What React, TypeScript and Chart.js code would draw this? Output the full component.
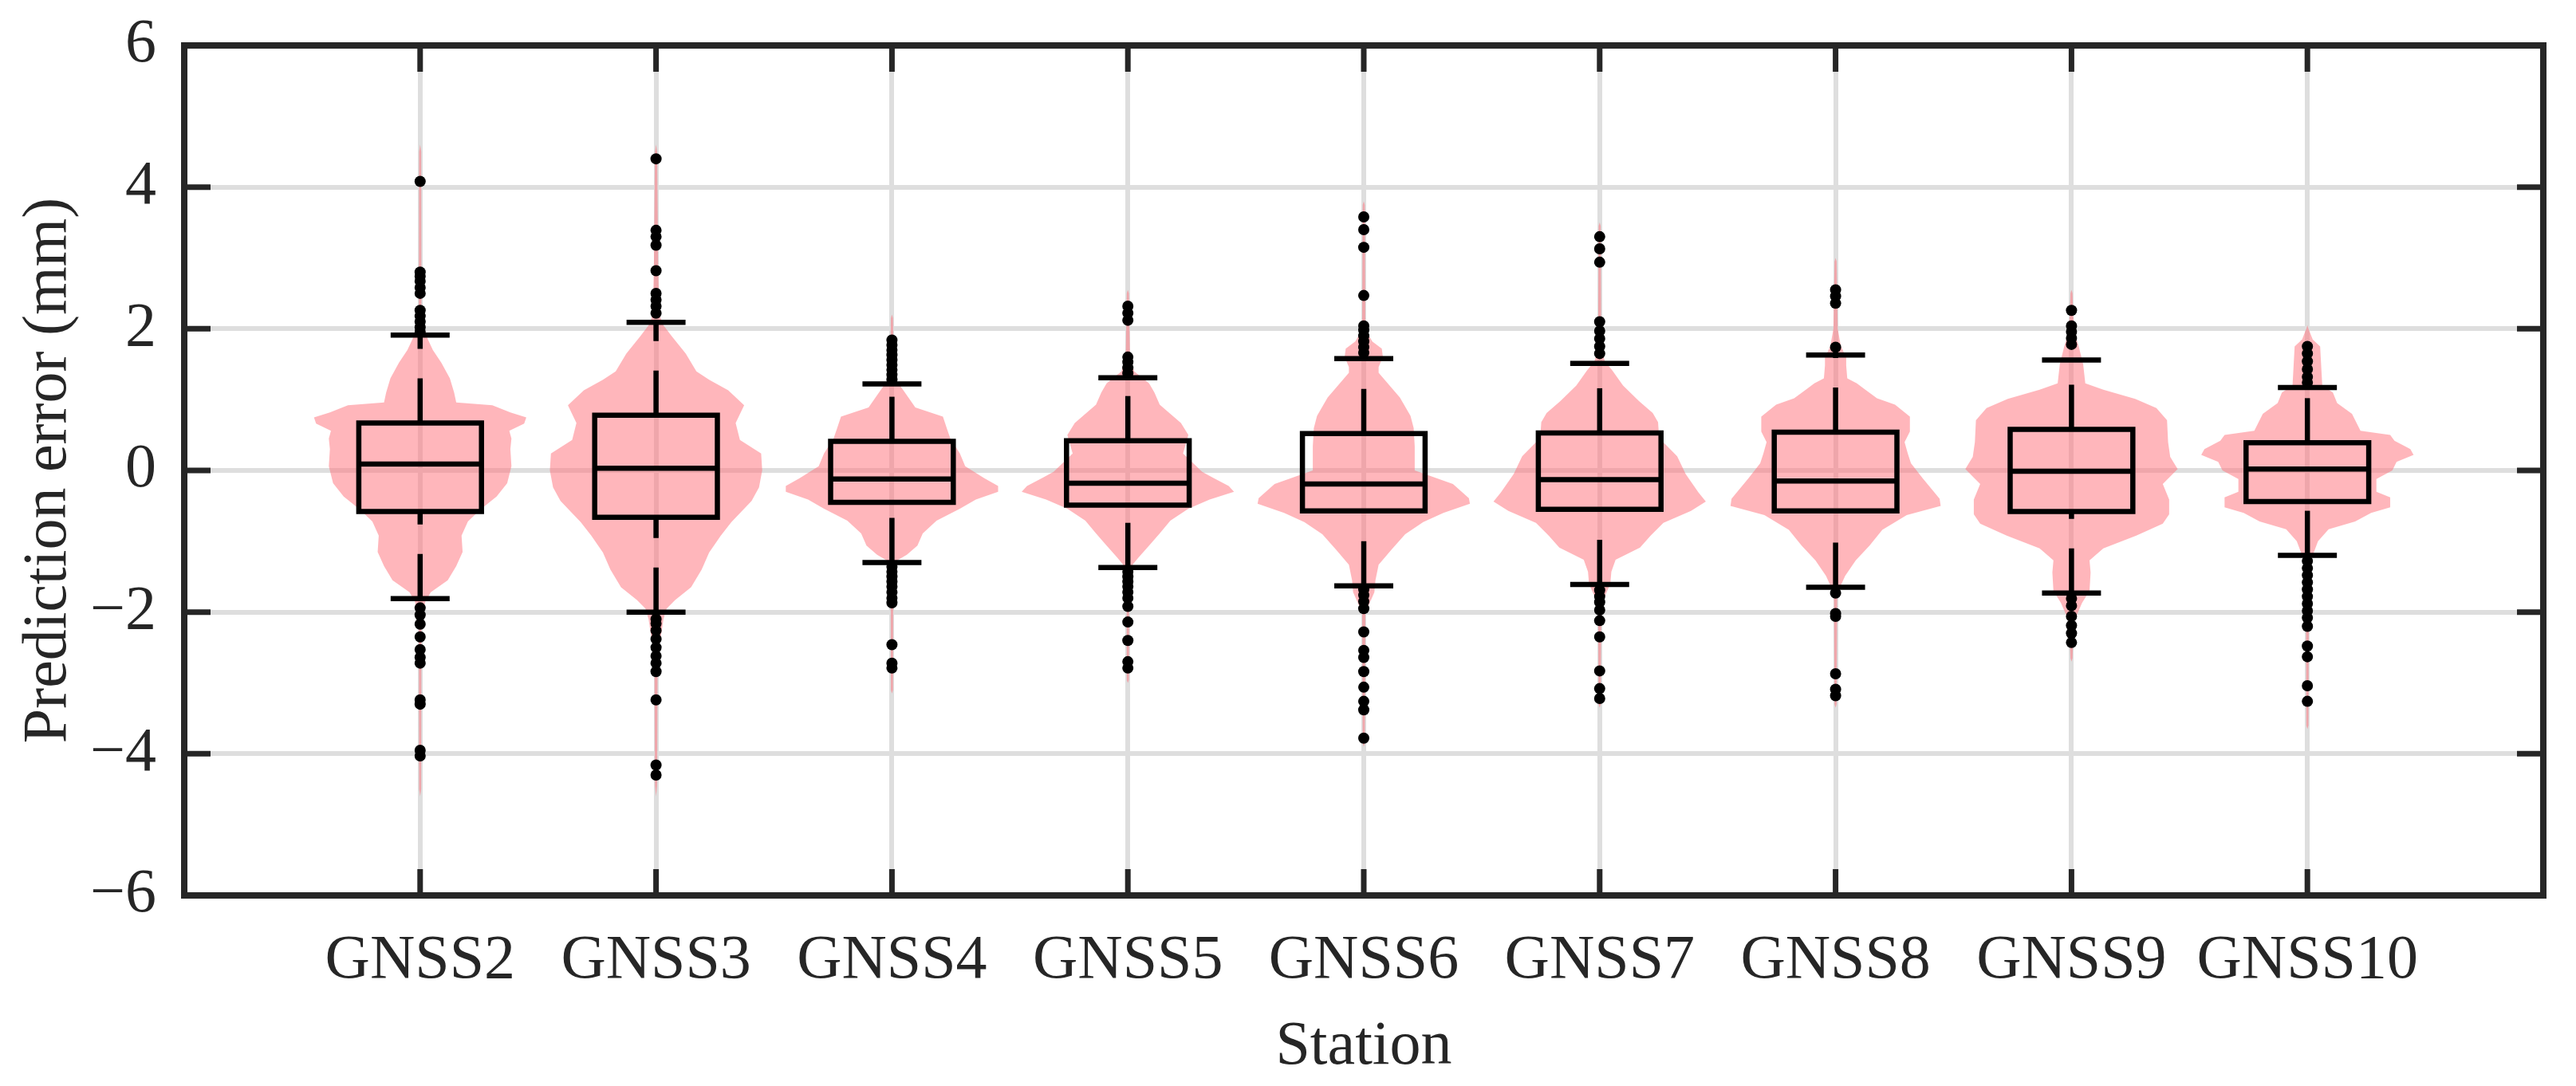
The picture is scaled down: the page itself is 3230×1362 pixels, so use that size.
import React, { useEffect, useRef } from 'react';
import { Chart, registerables } from 'chart.js';

Chart.register(...registerables);

// ---------------- data ----------------
const categories = ['GNSS2', 'GNSS3', 'GNSS4', 'GNSS5', 'GNSS6', 'GNSS7', 'GNSS8', 'GNSS9', 'GNSS10'];

const yTickValues = [-6, -4, -2, 0, 2, 4, 6];

const boxQ1 = [-0.58, -0.66, -0.45, -0.49, -0.57, -0.55, -0.57, -0.58, -0.44];
const boxMedian = [0.09, 0.03, -0.12, -0.18, -0.19, -0.13, -0.15, -0.01, 0.02];
const boxQ3 = [0.67, 0.78, 0.41, 0.42, 0.52, 0.53, 0.54, 0.58, 0.39];
const whiskerLow = [-1.81, -2.0, -1.3, -1.37, -1.63, -1.61, -1.65, -1.73, -1.2];
const whiskerHigh = [1.91, 2.09, 1.22, 1.31, 1.58, 1.51, 1.63, 1.56, 1.17];

const outliersGNSS2 = [4.08, 2.8, 2.74, 2.67, 2.58, 2.5, 2.26, 2.18, 2.1, 2.02, 1.96, -1.94, -2.04, -2.17, -2.35, -2.53, -2.64, -2.72, -3.24, -3.3, -3.95, -4.03];
const outliersGNSS3 = [4.4, 3.39, 3.3, 3.18, 2.82, 2.5, 2.41, 2.32, 2.22, -2.1, -2.16, -2.26, -2.38, -2.5, -2.62, -2.72, -2.84, -3.24, -4.16, -4.3];
const outliersGNSS4 = [1.84, 1.77, 1.7, 1.63, 1.56, 1.49, 1.42, 1.35, 1.28, -1.36, -1.43, -1.5, -1.57, -1.64, -1.72, -1.8, -1.87, -2.46, -2.72, -2.79];
const outliersGNSS5 = [2.32, 2.22, 2.12, 1.6, 1.53, 1.45, 1.37, -1.43, -1.5, -1.57, -1.64, -1.72, -1.8, -1.92, -2.14, -2.4, -2.7, -2.79];
const outliersGNSS6 = [3.58, 3.4, 3.15, 2.47, 2.04, 1.98, 1.9, 1.82, 1.74, 1.66, -1.68, -1.76, -1.85, -1.95, -2.28, -2.54, -2.64, -2.84, -3.06, -3.26, -3.38, -3.78];
const outliersGNSS7 = [3.3, 3.13, 2.94, 2.1, 1.97, 1.86, 1.75, 1.65, -1.69, -1.78, -1.86, -1.97, -2.12, -2.35, -2.83, -3.08, -3.22];
const outliersGNSS8 = [2.55, 2.46, 2.36, 1.74, -1.73, -2.02, -2.06, -2.87, -3.09, -3.18];
const outliersGNSS9 = [2.26, 2.04, 1.96, 1.87, 1.78, -1.81, -1.91, -2.06, -2.19, -2.3, -2.43];
const outliersGNSS10 = [1.75, 1.65, 1.54, 1.43, 1.32, 1.24, -1.28, -1.38, -1.48, -1.58, -1.68, -1.78, -1.88, -1.98, -2.08, -2.2, -2.48, -2.63, -3.04, -3.26];

// violin outline knots: [error value, relative half width (1 = widest)]
const violinGNSS2 = [[-4.6, 0], [-4.5, 0.01], [-2.2, 0.012], [-2.0, 0.025], [-1.85, 0.05], [-1.72, 0.1], [-1.55, 0.26], [-1.35, 0.34], [-1.15, 0.4], [-0.92, 0.39], [-0.72, 0.45], [-0.55, 0.57], [-0.37, 0.72], [-0.18, 0.82], [0.06, 0.86], [0.3, 0.85], [0.45, 0.86], [0.56, 0.84], [0.66, 0.98], [0.75, 1.0], [0.82, 0.85], [0.92, 0.68], [0.96, 0.34], [1.1, 0.32], [1.3, 0.28], [1.52, 0.2], [1.7, 0.12], [1.86, 0.07], [2.05, 0.03], [2.3, 0.012], [4.5, 0.01], [4.6, 0]];
const violinGNSS3 = [[-4.6, 0], [-4.45, 0.01], [-2.6, 0.015], [-2.3, 0.05], [-2.1, 0.07], [-1.95, 0.1], [-1.83, 0.18], [-1.65, 0.33], [-1.4, 0.43], [-1.16, 0.5], [-0.92, 0.61], [-0.73, 0.71], [-0.43, 0.9], [-0.24, 0.97], [0.0, 1.0], [0.24, 0.99], [0.43, 0.79], [0.67, 0.75], [0.92, 0.83], [1.13, 0.68], [1.28, 0.5], [1.4, 0.38], [1.65, 0.28], [1.89, 0.15], [2.05, 0.07], [2.2, 0.03], [2.9, 0.02], [4.5, 0.01], [4.6, 0]];
const violinGNSS4 = [[-3.15, 0], [-3.1, 0.01], [-1.3, 0.012], [-1.27, 0.05], [-1.19, 0.14], [-1.06, 0.24], [-0.89, 0.29], [-0.71, 0.42], [-0.54, 0.64], [-0.41, 0.79], [-0.3, 1.0], [-0.22, 1.0], [-0.11, 0.87], [0.06, 0.69], [0.24, 0.64], [0.45, 0.55], [0.58, 0.52], [0.76, 0.48], [0.89, 0.22], [1.02, 0.16], [1.19, 0.08], [1.3, 0.03], [1.5, 0.015], [2.15, 0.01], [2.2, 0]];
const violinGNSS5 = [[-3.0, 0], [-2.96, 0.01], [-1.4, 0.012], [-1.32, 0.05], [-1.23, 0.1], [-1.06, 0.2], [-0.89, 0.3], [-0.71, 0.4], [-0.54, 0.57], [-0.41, 0.77], [-0.3, 1.0], [-0.22, 0.95], [-0.1, 0.8], [-0.02, 0.7], [0.24, 0.52], [0.5, 0.57], [0.67, 0.5], [0.93, 0.3], [1.1, 0.25], [1.23, 0.2], [1.4, 0.06], [1.6, 0.02], [2.5, 0.01], [2.55, 0]];
const violinGNSS6 = [[-3.9, 0], [-3.85, 0.01], [-2.0, 0.015], [-1.89, 0.05], [-1.72, 0.1], [-1.55, 0.11], [-1.33, 0.14], [-1.12, 0.26], [-0.9, 0.39], [-0.73, 0.56], [-0.6, 0.75], [-0.47, 1.0], [-0.39, 0.99], [-0.19, 0.84], [0.0, 0.48], [0.34, 0.48], [0.6, 0.47], [0.77, 0.44], [1.03, 0.34], [1.38, 0.14], [1.46, 0.14], [1.6, 0.18], [1.72, 0.17], [1.82, 0.08], [1.95, 0.03], [2.1, 0.015], [3.75, 0.01], [3.8, 0]];
const violinGNSS7 = [[-3.35, 0], [-3.3, 0.01], [-1.85, 0.015], [-1.77, 0.05], [-1.6, 0.1], [-1.43, 0.11], [-1.26, 0.15], [-1.09, 0.38], [-0.92, 0.48], [-0.74, 0.6], [-0.57, 0.86], [-0.44, 1.0], [-0.31, 0.93], [-0.05, 0.81], [0.2, 0.73], [0.46, 0.56], [0.68, 0.55], [0.81, 0.5], [0.98, 0.37], [1.2, 0.22], [1.41, 0.12], [1.54, 0.05], [1.7, 0.015], [3.45, 0.01], [3.5, 0]];
const violinGNSS8 = [[-3.35, 0], [-3.3, 0.01], [-1.75, 0.015], [-1.62, 0.05], [-1.49, 0.09], [-1.27, 0.19], [-1.06, 0.32], [-0.84, 0.44], [-0.63, 0.67], [-0.5, 0.99], [-0.4, 0.98], [-0.11, 0.82], [0.1, 0.71], [0.24, 0.68], [0.4, 0.65], [0.55, 0.7], [0.76, 0.7], [0.93, 0.56], [1.02, 0.39], [1.15, 0.27], [1.23, 0.2], [1.3, 0.11], [1.48, 0.1], [1.6, 0.1], [1.75, 0.05], [2.0, 0.02], [2.95, 0.01], [3.0, 0]];
const violinGNSS9 = [[-2.7, 0], [-2.65, 0.01], [-2.15, 0.02], [-2.04, 0.05], [-1.87, 0.1], [-1.7, 0.17], [-1.44, 0.18], [-1.27, 0.17], [-1.1, 0.3], [-0.92, 0.61], [-0.75, 0.86], [-0.62, 0.92], [-0.41, 0.92], [-0.19, 0.86], [0.02, 1.0], [0.19, 0.93], [0.4, 0.91], [0.71, 0.9], [0.88, 0.8], [1.01, 0.6], [1.14, 0.3], [1.23, 0.13], [1.5, 0.11], [1.74, 0.07], [1.95, 0.03], [2.2, 0.015], [2.5, 0.01], [2.55, 0]];
const violinGNSS10 = [[-3.65, 0], [-3.6, 0.01], [-1.3, 0.015], [-1.2, 0.05], [-1.0, 0.1], [-0.83, 0.2], [-0.72, 0.45], [-0.6, 0.6], [-0.52, 0.78], [-0.38, 0.78], [-0.3, 0.65], [-0.12, 0.65], [0.0, 0.8], [0.12, 0.84], [0.22, 1.0], [0.3, 0.97], [0.42, 0.82], [0.5, 0.78], [0.56, 0.5], [0.8, 0.42], [0.95, 0.28], [1.1, 0.24], [1.2, 0.14], [1.75, 0.12], [1.85, 0.05], [2.0, 0.01], [2.05, 0]];

const outlierSets = [outliersGNSS2, outliersGNSS3, outliersGNSS4, outliersGNSS5, outliersGNSS6, outliersGNSS7, outliersGNSS8, outliersGNSS9, outliersGNSS10];
const violinSets = [violinGNSS2, violinGNSS3, violinGNSS4, violinGNSS5, violinGNSS6, violinGNSS7, violinGNSS8, violinGNSS9, violinGNSS10];

// ---------------- style ----------------
const FONT_FAMILY = "'Liberation Serif', 'Times New Roman', Times, serif";
const FONT_SIZE = 78;
const INK = '#262626';
const GRID = 'rgb(222,222,222)';
const VIOLIN_FILL = 'rgba(255,110,120,0.5)';
const VIOLIN_MAX_HALF = 0.45; // in category units
const BOX_HALF = 0.26;
const CAP_HALF = 0.125;

export default function App() {
  const canvasRef = useRef<HTMLCanvasElement | null>(null);

  useEffect(() => {
    const canvas = canvasRef.current;
    if (!canvas) return;

    const outlierPoints: { x: number; y: number }[] = [];
    outlierSets.forEach((set, i) => set.forEach((v) => outlierPoints.push({ x: i + 1, y: v })));

    const violinBoxPlugin = {
      id: 'violinBox',
      beforeDatasetsDraw(chart: any) {
        const { ctx, chartArea, scales } = chart;
        const xs = scales.x;
        const ys = scales.y;
        ctx.save();
        ctx.beginPath();
        ctx.rect(chartArea.left, chartArea.top, chartArea.right - chartArea.left, chartArea.bottom - chartArea.top);
        ctx.clip();

        // violins
        violinSets.forEach((knots, i) => {
          const c = i + 1;
          ctx.beginPath();
          knots.forEach(([v, w], k) => {
            const px = xs.getPixelForValue(c + w * VIOLIN_MAX_HALF);
            const py = ys.getPixelForValue(v);
            if (k === 0) ctx.moveTo(px, py);
            else ctx.lineTo(px, py);
          });
          for (let k = knots.length - 1; k >= 0; k--) {
            const [v, w] = knots[k];
            ctx.lineTo(xs.getPixelForValue(c - w * VIOLIN_MAX_HALF), ys.getPixelForValue(v));
          }
          ctx.closePath();
          ctx.fillStyle = VIOLIN_FILL;
          ctx.fill();
        });

        // box plots
        ctx.strokeStyle = '#000';
        ctx.lineCap = 'butt';
        ctx.lineJoin = 'miter';
        categories.forEach((_, i) => {
          const c = i + 1;
          const cx = xs.getPixelForValue(c);
          const yQ1 = ys.getPixelForValue(boxQ1[i]);
          const yQ3 = ys.getPixelForValue(boxQ3[i]);
          const yMed = ys.getPixelForValue(boxMedian[i]);
          const yLo = ys.getPixelForValue(whiskerLow[i]);
          const yHi = ys.getPixelForValue(whiskerHigh[i]);

          // dashed whiskers (drawn upward)
          ctx.lineWidth = 6.5;
          ctx.setLineDash([56, 37]);
          ctx.beginPath();
          ctx.moveTo(cx, yLo);
          ctx.lineTo(cx, yQ1);
          ctx.stroke();
          ctx.beginPath();
          ctx.moveTo(cx, yQ3);
          ctx.lineTo(cx, yHi);
          ctx.stroke();
          ctx.setLineDash([]);

          // caps
          const capL = xs.getPixelForValue(c - CAP_HALF);
          const capR = xs.getPixelForValue(c + CAP_HALF);
          ctx.beginPath();
          ctx.moveTo(capL, yLo);
          ctx.lineTo(capR, yLo);
          ctx.moveTo(capL, yHi);
          ctx.lineTo(capR, yHi);
          ctx.stroke();

          // box
          const bL = xs.getPixelForValue(c - BOX_HALF);
          const bR = xs.getPixelForValue(c + BOX_HALF);
          ctx.lineWidth = 6.5;
          ctx.beginPath();
          ctx.rect(bL, yQ3, bR - bL, yQ1 - yQ3);
          ctx.stroke();
          // median
          ctx.beginPath();
          ctx.moveTo(bL, yMed);
          ctx.lineTo(bR, yMed);
          ctx.stroke();
        });
        ctx.restore();
      },
      afterDraw(chart: any) {
        const { ctx, chartArea, scales } = chart;
        const { left, right, top, bottom } = chartArea;
        const xs = scales.x;
        const ys = scales.y;
        const TL = 33;
        ctx.save();
        ctx.strokeStyle = INK;
        ctx.lineWidth = 7;
        ctx.lineCap = 'butt';
        ctx.beginPath();
        xs.ticks.forEach((t: any) => {
          const px = xs.getPixelForValue(t.value);
          ctx.moveTo(px, bottom);
          ctx.lineTo(px, bottom - TL);
          ctx.moveTo(px, top);
          ctx.lineTo(px, top + TL);
        });
        ys.ticks.forEach((t: any) => {
          const py = ys.getPixelForValue(t.value);
          ctx.moveTo(left, py);
          ctx.lineTo(left + TL, py);
          ctx.moveTo(right, py);
          ctx.lineTo(right - TL, py);
        });
        ctx.stroke();
        ctx.lineWidth = 8;
        ctx.lineJoin = 'miter';
        ctx.strokeRect(left, top, right - left, bottom - top);
        ctx.restore();
      },
    };

    const font = { family: FONT_FAMILY, size: FONT_SIZE, weight: 'normal' as const };

    const chart = new Chart(canvas, {
      type: 'scatter',
      data: {
        datasets: [
          {
            label: 'Outliers',
            data: outlierPoints,
            pointRadius: 7,
            pointHoverRadius: 7,
            pointBackgroundColor: '#000',
            pointBorderWidth: 0,
            pointBorderColor: '#000',
          },
        ],
      },
      options: {
        animation: false,
        responsive: false,
        devicePixelRatio: 1,
        events: [],
        layout: { padding: { top: 57, right: 41, left: 0, bottom: 0 } },
        plugins: {
          legend: { display: false },
          tooltip: { enabled: false },
        },
        scales: {
          x: {
            type: 'linear',
            min: 0,
            max: 10,
            afterBuildTicks: (scale: any) => {
              scale.ticks = categories.map((_, i) => ({ value: i + 1 }));
            },
            afterFit: (scale: any) => {
              scale.height = 239;
              scale.paddingLeft = 0;
              scale.paddingRight = 0;
            },
            ticks: {
              callback: (value: any) => categories[Number(value) - 1] ?? '',
              font,
              color: INK,
              padding: 36,
              maxRotation: 0,
              minRotation: 0,
              autoSkip: false,
            },
            grid: { color: GRID, lineWidth: 6, drawTicks: false },
            border: { display: false },
            title: {
              display: true,
              text: 'Station',
              font,
              color: INK,
              padding: { top: 0, bottom: 2 },
            },
          },
          y: {
            type: 'linear',
            min: -6,
            max: 6,
            afterBuildTicks: (scale: any) => {
              scale.ticks = yTickValues.map((v) => ({ value: v }));
            },
            afterFit: (scale: any) => {
              scale.width = 231;
              scale.paddingTop = 0;
              scale.paddingBottom = 0;
            },
            ticks: {
              callback: (value: any) => {
                const v = Number(value);
                return v < 0 ? '\u2212' + Math.abs(v) : String(v);
              },
              font,
              color: INK,
              padding: 35,
            },
            grid: { color: GRID, lineWidth: 6, drawTicks: false },
            border: { display: false },
            title: {
              display: true,
              text: 'Prediction error (mm)',
              font,
              color: INK,
              padding: { top: 15, bottom: 0 },
            },
          },
        },
      },
      plugins: [violinBoxPlugin],
    } as any);

    return () => {
      chart.destroy();
    };
  }, []);

  return (
    <div style={{ position: 'fixed', left: 0, top: 0, width: 3230, height: 1362, background: '#fff' }}>
      <canvas ref={canvasRef} width={3230} height={1362} style={{ display: 'block', width: 3230, height: 1362 }} />
    </div>
  );
}
